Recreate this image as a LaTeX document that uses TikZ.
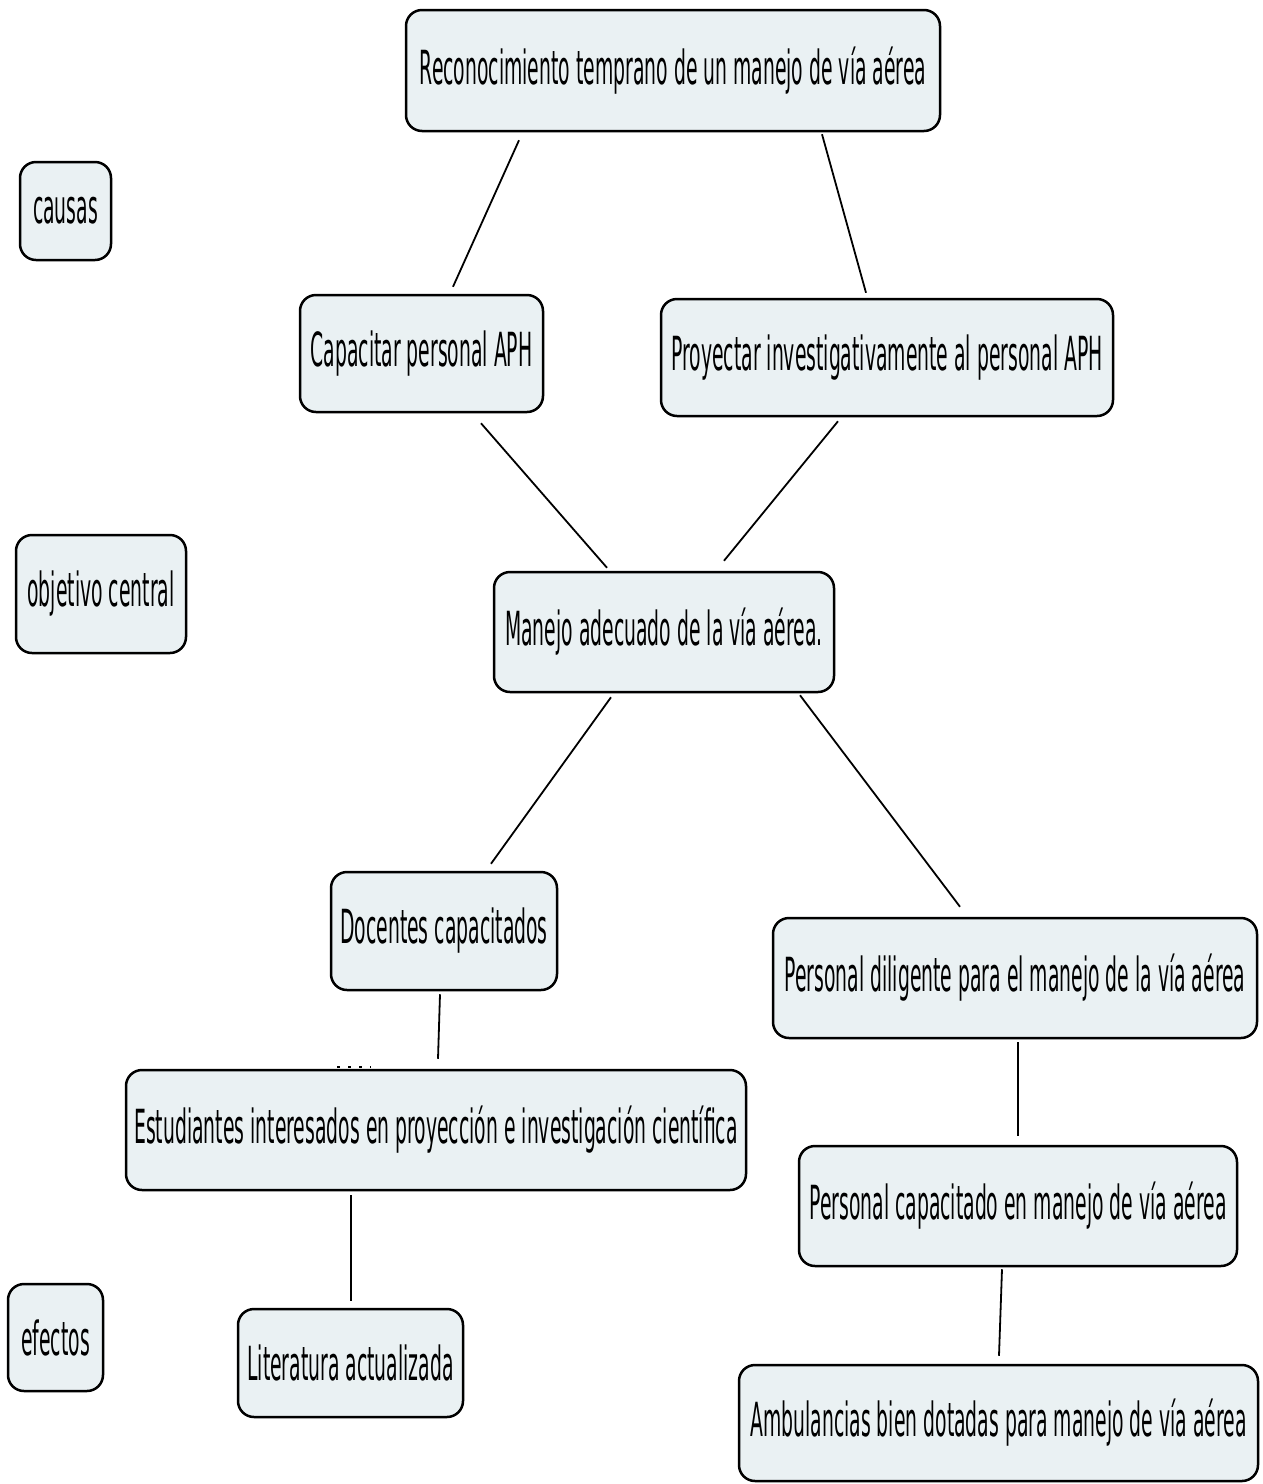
\documentclass[tikz,border=0pt]{standalone}
\usepackage{fontspec}
\setmainfont{DejaVu Sans}[FakeStretch=0.4]
\definecolor{boxfill}{HTML}{EAF1F3}
\begin{document}
\begin{tikzpicture}[x=1pt,y=-1pt,
  box/.style={draw=black, fill=boxfill, line width=2.5pt, rounded corners=16pt,
    inner sep=0pt, align=center, font=\fontsize{47}{52}\selectfont},
  conn/.style={draw=black, line width=1.8pt}]
\useasboundingbox (0,0) rectangle (1263,1484);
\node[box, minimum width=534pt, minimum height=121pt] (top) at (673,70.5) {Reconocimiento temprano de un manejo de vía aérea};
\node[box, minimum width=91pt, minimum height=98pt] (causas) at (65.5,211) {causas};
\node[box, minimum width=243pt, minimum height=117pt] (cap) at (421.5,353.5) {Capacitar personal APH};
\node[box, minimum width=452pt, minimum height=117pt] (proy) at (887,357.5) {Proyectar investigativamente al personal APH};
\node[box, minimum width=170pt, minimum height=118pt] (obj) at (101,594) {objetivo central};
\node[box, minimum width=340pt, minimum height=120pt] (man) at (664,632) {Manejo adecuado de la vía aérea.};
\node[box, minimum width=226pt, minimum height=118pt] (doc) at (444,931) {Docentes capacitados};
\node[box, minimum width=484pt, minimum height=120pt] (pdil) at (1015,978) {Personal diligente para el manejo de la vía aérea};
\node[box, minimum width=620pt, minimum height=120pt] (est) at (436,1130) {Estudiantes interesados en proyección e investigación científica};
\node[box, minimum width=438pt, minimum height=120pt] (pcap) at (1018,1206) {Personal capacitado en manejo de vía aérea};
\node[box, minimum width=95pt, minimum height=107pt] (efec) at (55.5,1337.5) {efectos};
\node[box, minimum width=225pt, minimum height=108pt] (lit) at (350.5,1363) {Literatura actualizada};
\node[box, minimum width=519pt, minimum height=116pt] (amb) at (998.5,1423) {Ambulancias bien dotadas para manejo de vía aérea};
\draw[conn] ([shift={(-154,8)}]top.south) -- ([shift={(31.5,-7)}]cap.north);
\draw[conn] ([shift={(149,2)}]top.south) -- ([shift={(-21,-5)}]proy.north);
\draw[conn] ([shift={(59.5,10)}]cap.south) -- ([shift={(-57,-3)}]man.north);
\draw[conn] ([shift={(-49,4)}]proy.south) -- ([shift={(60,-10)}]man.north);
\draw[conn] ([shift={(-53,4)}]man.south) -- ([shift={(47,-7)}]doc.north);
\draw[conn] ([shift={(136,2)}]man.south) -- ([shift={(-55,-10)}]pdil.north);
\draw[conn] ([shift={(-4,3)}]doc.south) -- ([shift={(2,-10)}]est.north);
\draw[conn] ([shift={(3,3)}]pdil.south) -- ([shift={(0,-9)}]pcap.north);
\draw[conn] ([shift={(-85,4)}]est.south) -- ([shift={(0.5,-7)}]lit.north);
\draw[conn] ([shift={(-16,2)}]pcap.south) -- ([shift={(0.5,-8)}]amb.north);
\coordinate (dA) at ([shift={(-99,-2)}]est.north);
\coordinate (dB) at ([shift={(-65,-2)}]est.north);
\draw[line width=2pt, dash pattern=on 3pt off 8pt] (dA) -- (dB);
\end{tikzpicture}
\end{document}
